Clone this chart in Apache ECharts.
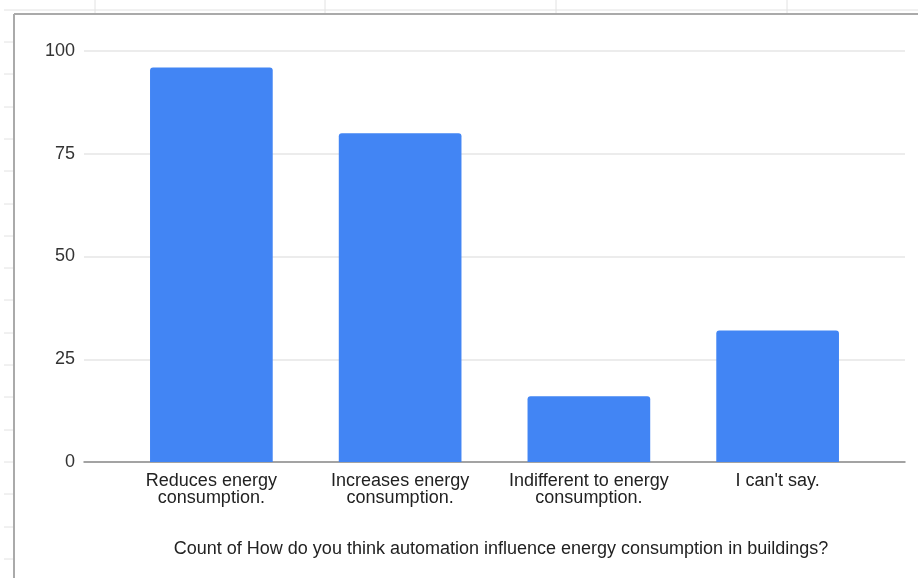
<!DOCTYPE html>
<html>
<head>
<meta charset="utf-8">
<script src="https://cdn.jsdelivr.net/npm/echarts@6/dist/echarts.min.js"></script>
<style>
  html, body { margin: 0; padding: 0; background: #fff; }
  #main { width: 918px; height: 578px; }
</style>
</head>
<body>
<div id="main"></div>
<script>
// 数据
var categories = [
  'Reduces energy\nconsumption.',
  'Increases energy\nconsumption.',
  'Indifferent to energy\nconsumption.',
  "I can't say."
];
var counts = [96, 80, 16, 32];
var yTicks = [0, 25, 50, 75, 100];
var chartTitle = 'Count of How do you think automation influence energy consumption in buildings?';

var myChart = echarts.init(document.getElementById('main'));

// 表格背景（列线、行线、图表边框）
var sheetLines = [];
[95, 325, 556, 787].forEach(function (x) {
  sheetLines.push({ type: 'line', shape: { x1: x, y1: 0, x2: x, y2: 14 }, style: { stroke: '#e2e2e2', lineWidth: 1 } });
});
sheetLines.push({ type: 'line', shape: { x1: 4, y1: 10, x2: 918, y2: 10 }, style: { stroke: '#e2e2e2', lineWidth: 1 } });
for (var i = 0; i < 17; i++) {
  var y = Math.round(42 + i * 32.3);
  sheetLines.push({ type: 'line', shape: { x1: 4, y1: y, x2: 14, y2: y }, style: { stroke: '#e2e2e2', lineWidth: 1 } });
}
sheetLines.push({ type: 'line', shape: { x1: 14, y1: 14, x2: 918, y2: 14 }, style: { stroke: '#aaaaaa', lineWidth: 2 } });
sheetLines.push({ type: 'line', shape: { x1: 14, y1: 14, x2: 14, y2: 578 }, style: { stroke: '#aaaaaa', lineWidth: 2 } });

var option = {
  animation: false,
  textStyle: { fontFamily: 'Liberation Sans, Arial, sans-serif' },
  graphic: sheetLines,
  title: {
    text: chartTitle,
    left: 496,
    top: 535,
    textAlign: 'center',
    textStyle: { fontSize: 18, fontWeight: 'normal', color: '#222' }
  },
  grid: [
    { left: 84, right: 13, top: 51, bottom: 116 },
    { left: 117, right: 46, top: 51, bottom: 116 }
  ],
  xAxis: [
    {
      gridIndex: 0,
      type: 'value',
      min: 0,
      max: 1,
      axisLine: { show: true, lineStyle: { color: '#8a8a8a', width: 1.5 } },
      axisTick: { show: false },
      axisLabel: { show: false },
      splitLine: { show: false }
    },
    {
      gridIndex: 1,
      type: 'category',
      data: categories,
      axisLine: { show: false },
      axisTick: { show: false },
      axisLabel: { margin: 11, fontSize: 18, lineHeight: 17, color: '#222', interval: 0 }
    }
  ],
  yAxis: [
    {
      gridIndex: 0,
      type: 'value',
      min: yTicks[0],
      max: yTicks[yTicks.length - 1],
      interval: 25,
      axisLine: { show: false },
      axisTick: { show: false },
      axisLabel: { margin: 9, fontSize: 18, color: '#333' },
      splitLine: { lineStyle: { color: '#e6e6e6', width: 1.5 } }
    },
    {
      gridIndex: 1,
      type: 'value',
      min: yTicks[0],
      max: yTicks[yTicks.length - 1],
      show: false
    }
  ],
  series: [
    {
      type: 'bar',
      xAxisIndex: 1,
      yAxisIndex: 1,
      data: counts,
      barWidth: '65%',
      itemStyle: { color: '#4285f4', borderRadius: [3, 3, 0, 0] },
      z: 1
    }
  ]
};

myChart.setOption(option);
</script>
</body>
</html>
